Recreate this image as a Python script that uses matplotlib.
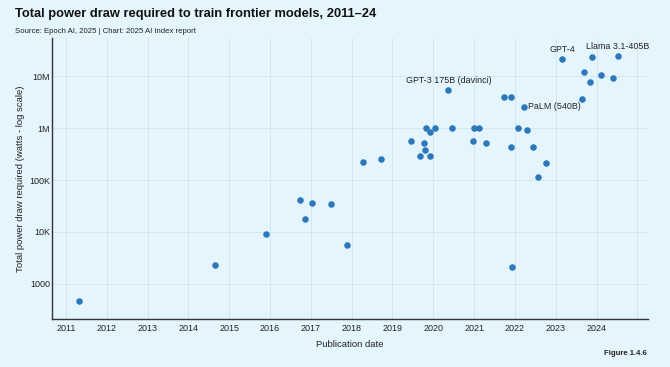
import matplotlib
matplotlib.use("Agg")
import matplotlib.pyplot as plt
from matplotlib.ticker import FixedLocator, NullLocator

# Publication date (decimal year) and total power draw (watts)
pub_year = [2011.31, 2014.65, 2015.91, 2016.74, 2016.85, 2017.03, 2017.49, 2017.89,
            2018.29, 2018.71, 2019.46, 2019.67, 2019.77, 2019.79, 2019.83, 2019.91,
            2019.91, 2020.04, 2020.37, 2020.46, 2020.98, 2020.99, 2021.13, 2021.30,
            2021.73, 2021.90, 2021.91, 2021.94, 2022.07, 2022.22, 2022.30, 2022.45,
            2022.57, 2022.76, 2023.16, 2023.65, 2023.70, 2023.85, 2023.89, 2024.10,
            2024.41, 2024.52]
power_w = [470, 2300, 9100, 40700, 18000, 35500, 34000, 5600,
           225000, 258000, 570000, 286000, 515000, 382000, 1010000, 850000,
           286000, 1010000, 5500000, 1010000, 570000, 1010000, 1010000, 508000,
           3950000, 4000000, 431000, 2100, 1010000, 2570000, 903000, 431000,
           112000, 215000, 21500000, 3560000, 11900000, 7600000, 23500000, 10600000,
           9300000, 24500000]

labels = {18: "GPT-3 175B (davinci)", 29: "PaLM (540B)", 34: "GPT-4", 41: "Llama 3.1-405B"}

year_ticks = list(range(2011, 2025))
y_ticks = [1e3, 1e4, 1e5, 1e6, 1e7]
y_ticklabels = ["1000", "10K", "100K", "1M", "10M"]

bg = "#e4f5fd"
dot = "#2b78ba"
plt.rcParams['font.family'] = ['Liberation Sans', 'DejaVu Sans']

fig = plt.figure(figsize=(6.7, 3.67), dpi=100, facecolor=bg)
ax = fig.add_axes([0.0776, 0.131, 0.889, 0.765])
ax.set_facecolor(bg)

ax.scatter(pub_year, power_w, s=22, color=dot, zorder=3, linewidths=0)

for i, txt in labels.items():
    if i == 29:
        ax.annotate(txt, (pub_year[i], power_w[i]), xytext=(3, 0), textcoords="offset points",
                    ha="left", va="center", fontsize=6.4, color="#222222")
    else:
        ax.annotate(txt, (pub_year[i], power_w[i]), xytext=(0, 3.5), textcoords="offset points",
                    ha="center", va="bottom", fontsize=6.4, color="#222222")

ax.set_yscale("log")
ax.set_ylim(10 ** 2.327, 10 ** 7.73)
ax.set_xlim(2010.66, 2025.25)
ax.yaxis.set_major_locator(FixedLocator(y_ticks))
ax.yaxis.set_minor_locator(NullLocator())
ax.set_yticklabels(y_ticklabels)
ax.xaxis.set_major_locator(FixedLocator(year_ticks + [2025]))
ax.set_xticklabels([str(y) for y in year_ticks] + [""])

ax.grid(True, color="#d3e7f0", linewidth=0.7, zorder=0)
ax.tick_params(length=0, labelsize=6.5, colors="#222222")
ax.tick_params(axis="y", pad=1.5)
ax.tick_params(axis="x", pad=4)
for s in ["top", "right"]:
    ax.spines[s].set_visible(False)
for s in ["left", "bottom"]:
    ax.spines[s].set_color("#333333")
    ax.spines[s].set_linewidth(1.0)

ax.set_xlabel("Publication date", fontsize=6.8, color="#222222", labelpad=5)
ax.set_ylabel("Total power draw required (watts - log scale)", fontsize=6.8, color="#222222", labelpad=3)

fig.text(0.022, 0.962, "Total power draw required to train frontier models, 2011\u201324",
         fontsize=9.3, fontweight="bold", color="#111111", va="center")
fig.text(0.022, 0.913, "Source: Epoch AI, 2025 | Chart: 2025 AI Index report",
         fontsize=5.6, color="#222222", va="center")
fig.text(0.965, 0.038, "Figure 1.4.6", fontsize=5.6, fontweight="bold", color="#222222",
         ha="right", va="center")

fig.savefig("out.png", dpi=100, facecolor=bg)
